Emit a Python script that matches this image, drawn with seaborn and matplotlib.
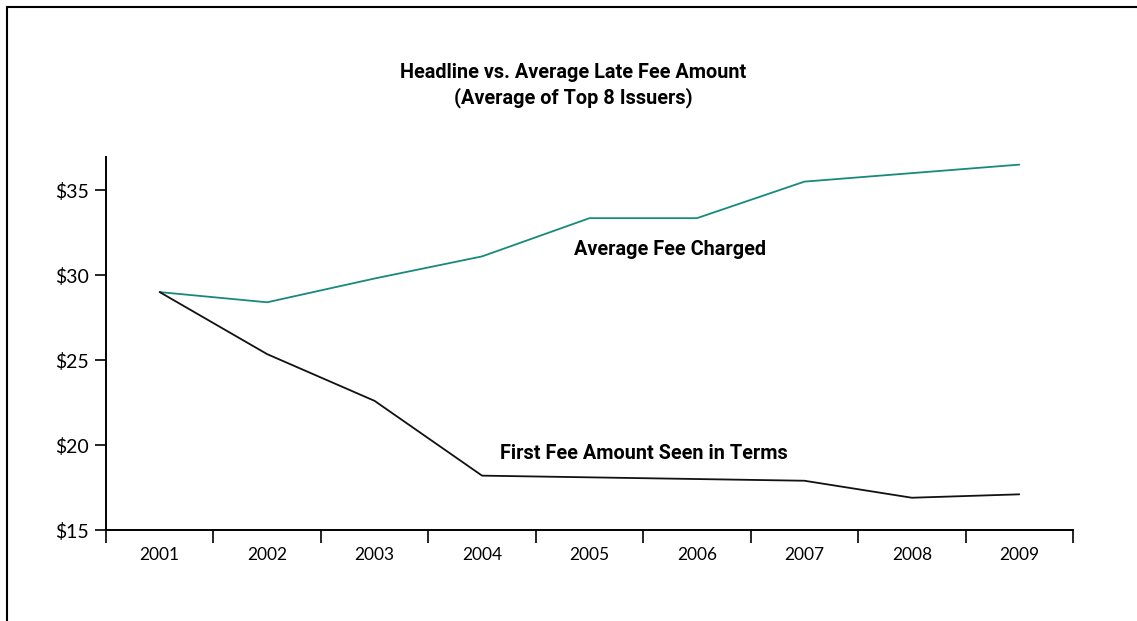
import pandas as pd
import numpy as np
import matplotlib
matplotlib.use('Agg')
import matplotlib.pyplot as plt
import seaborn as sns
from matplotlib.patches import Rectangle

# Values
years = ['2001', '2002', '2003', '2004', '2005', '2006', '2007', '2008', '2009']
avg_fee = [29.0, 28.4, 29.8, 31.1, 33.35, 33.35, 35.5, 36.0, 36.5]
first_fee = [29.0, 25.35, 22.6, 18.2, 18.1, 18.0, 17.9, 16.9, 17.1]
series_names = ['Average Fee Charged', 'First Fee Amount Seen in Terms']
y_ticks = [15, 20, 25, 30, 35]

df = pd.DataFrame({'year': years * 2,
                   'pos': list(range(len(years))) * 2,
                   'fee': avg_fee + first_fee,
                   'series': [series_names[0]] * len(years) + [series_names[1]] * len(years)})

sns.set_style('white')
plt.rcParams['font.family'] = ['Lato', 'DejaVu Sans']
plt.rcParams['text.color'] = 'black'
plt.rcParams['xtick.color'] = 'black'
plt.rcParams['ytick.color'] = 'black'

fig = plt.figure(figsize=(11.37, 6.21), dpi=100)
ax = fig.add_axes([0.0932, 0.1465, 0.8505, 0.6007])

sns.lineplot(data=df, x='pos', y='fee', hue='series',
             palette={series_names[0]: '#178a7b', series_names[1]: '#111111'},
             linewidth=1.3, legend=False, ax=ax)

ax.set_xlim(-0.5, len(years) - 0.5)
ax.set_ylim(15, 36.95)
ax.set_xlabel('')
ax.set_ylabel('')

# tick marks at category boundaries, labels at centres
ax.set_xticks(np.arange(-0.5, len(years), 1.0))
ax.set_xticklabels([])
ax.set_xticks(np.arange(len(years)), minor=True)
ax.set_xticklabels(years, minor=True, fontsize=12.5)
ax.tick_params(axis='x', which='major', direction='out', length=9, width=1.2, bottom=True)
ax.tick_params(axis='x', which='minor', length=0, pad=12)

ax.set_yticks(y_ticks)
ax.set_yticklabels([f'${v}' for v in y_ticks], fontsize=14)
ax.tick_params(axis='y', direction='out', length=8, width=1.2, left=True, pad=4)

sns.despine(ax=ax)
for s in ['left', 'bottom']:
    ax.spines[s].set_linewidth(1.4)
    ax.spines[s].set_color('black')

bold = ['Roboto', 'DejaVu Sans']
ax.text(4.75, 31.5, series_names[0], fontsize=14.3, fontweight='bold', family=bold,
        ha='center', va='center')
ax.text(3.17, 19.5, series_names[1], fontsize=14.3, fontweight='bold', family=bold,
        ha='left', va='center')

fig.text(0.504, 1 - 72 / 621, 'Headline vs. Average Late Fee Amount', fontsize=14.3,
         fontweight='bold', family=bold, ha='center', va='center')
fig.text(0.504, 1 - 98 / 621, '(Average of Top 8 Issuers)', fontsize=14.3,
         fontweight='bold', family=bold, ha='center', va='center')

# frame around the figure (left and top edges visible)
fig.patches.append(Rectangle((7 / 1137, -0.2), 1.5, 1.2 - 7 / 621, transform=fig.transFigure,
                             fill=False, edgecolor='black', linewidth=1.5))

fig.savefig('out.png', dpi=100)
